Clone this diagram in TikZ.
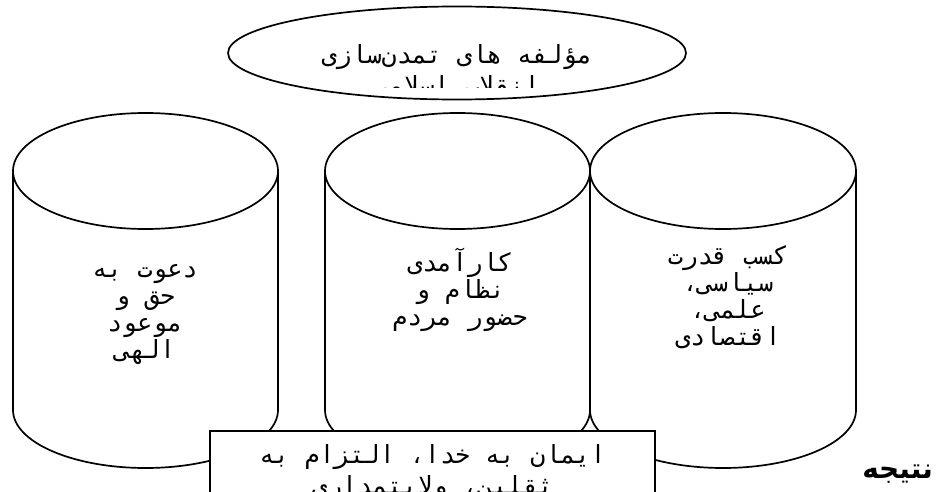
\documentclass[tikz,border=0pt]{standalone}
\usepackage{fontspec}
\newfontfamily\arabicfont[Script=Arabic]{DejaVu Sans Mono}
\newfontfamily\arabicbold[Script=Arabic]{DejaVu Sans}
\TeXXeTstate=1
\usetikzlibrary{shapes.geometric}
% drum: left x, right x, y of top rim, y of bottom rim
\def\drum(#1:#2:#3:#4){%
  \pgfmathsetmacro\drumrx{(#2-#1)/2}%
  \pgfmathsetmacro\drumcx{(#1+#2)/2}%
  \draw[line width=1.7pt] (\drumcx,#3) ellipse ({\drumrx pt} and 58pt);
  \draw[line width=1.7pt] (#1,#3) -- (#1,#4) arc (180:360:{\drumrx pt} and 58pt) -- (#2,#3);
}

\begin{document}
\begin{tikzpicture}[x=1pt,y=1pt,
    drumtext/.style={font=\arabicfont\fontsize{25}{27}\selectfont, align=center, inner sep=0pt},
    widetext/.style={font=\arabicfont\fontsize{25}{31}\selectfont, align=center, inner sep=0pt}]
		%%%%% START %%%%%
		\clip (0,0) rectangle (937,491);
		
		\node[draw, ellipse, line width=1.7pt, minimum width=458pt, minimum height=93pt, inner sep=0pt] (title) at (457,438) {};
		\begin{scope}
			\clip (220,403) rectangle (700,480);
			\node[widetext] (titletext) at (457,420) {\beginR مؤلفه های تمدن‌سازی\endR\\\beginR انقلاب اسلامی\endR};
		\end{scope}
		
		\drum(13:278:320:81)
		\drum(325:590:320:81)
		\drum(590:856:320:81)
		
		\node[drumtext] (call) at (145,176) {\beginR دعوت به\endR\\\beginR حق و\endR\\\beginR موعود\endR\\\beginR الهی\endR};
		\node[drumtext] (people) at (460,201) {\beginR کارآمدی\endR\\\beginR نظام و\endR\\\beginR حضور مردم\endR};
		\node[drumtext] (power) at (728,194) {\beginR کسب قدرت\endR\\\beginR سیاسی،\endR\\\beginR علمی،\endR\\\beginR اقتصادی\endR};
		
		\node[draw, fill=white, line width=1.7pt, minimum width=445pt, minimum height=100pt, inner sep=0pt] (base) at (432.5,10) {};
		\node[widetext] (basetext) at (432.5,18) {\beginR ایمان به خدا، التزام به\endR\\\beginR ثقلین، ولایتمداری\endR};
		
		\node[font=\arabicbold\bfseries\fontsize{28}{32}\selectfont, anchor=east, inner sep=0pt] (result) at (933,17) {\beginR نتیجه\endR};
		%%%%% END %%%%%
\end{tikzpicture}
\end{document}
